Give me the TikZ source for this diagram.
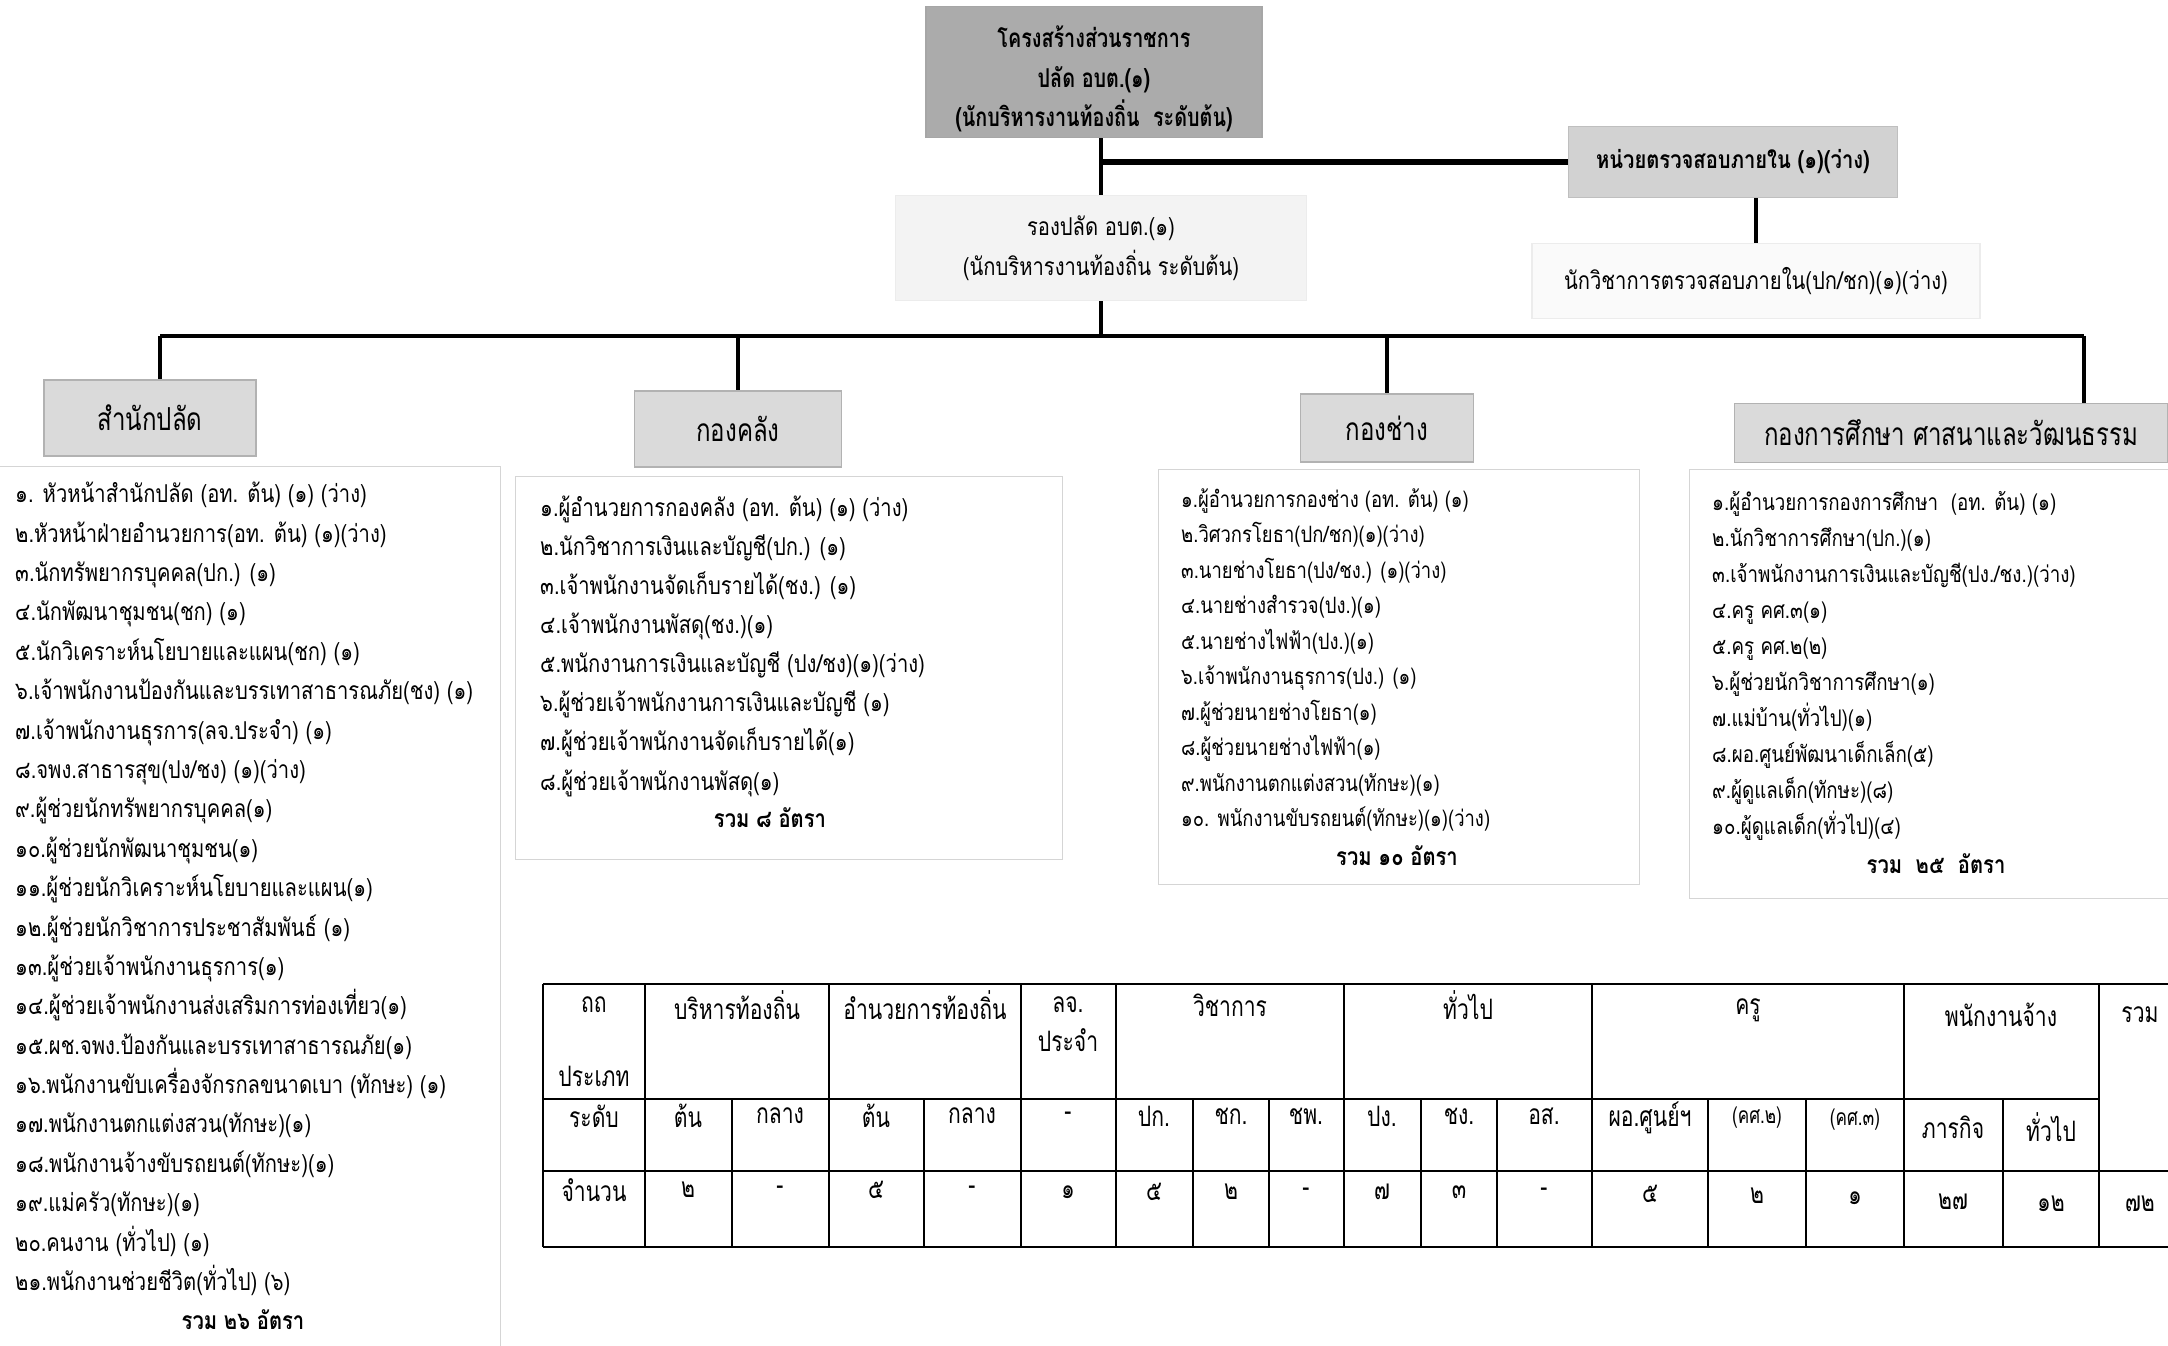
\documentclass[tikz,border=0pt]{standalone}
\usepackage{fontspec}
\newfontfamily\lomafont[Script=Thai,FakeStretch=0.82]{Loma}
\newfontfamily\lomanarrow[Script=Thai,FakeStretch=0.76]{Loma}
\newfontfamily\lomatable[Script=Thai,FakeStretch=0.75]{Loma}
\definecolor{topgray}{HTML}{ABABAB}
\definecolor{deptgray}{HTML}{DADADA}
\definecolor{auditgray}{HTML}{D2D2D2}
\definecolor{palegray}{HTML}{F3F3F3}
\definecolor{edgegray}{HTML}{D5D5D5}

\begin{document}
\begin{tikzpicture}[x=0.01cm,y=-0.01cm,inner sep=1pt,
 font=\lomafont\fontsize{7pt}{11.2pt}\selectfont,
 conn/.style={line width=0.9pt},
 dept/.style={draw=gray!60,fill=deptgray,font=\lomanarrow\fontsize{9pt}{11pt}\selectfont},
 listbox/.style={draw=edgegray,line width=0.3pt},
 stafflist/.style={anchor=north west,align=left},
 sumline/.style={font=\lomafont\bfseries\fontsize{7pt}{11pt}\selectfont},
 tabline/.style={line width=0.7pt},
 cell/.style={font=\lomatable\fontsize{8pt}{10pt}\selectfont}]
\useasboundingbox (0,0) rectangle (2168,1346);
\node[draw=gray!70,fill=topgray,minimum width=3.36cm,minimum height=1.31cm] (top) at (1094,72) {};
\node[align=center,font=\lomanarrow\bfseries\fontsize{7.4pt}{11.2pt}\selectfont] (toptitle) at (1094,79) {โครงสร้างส่วนราชการ\\ปลัด อบต.(๑)\\(นักบริหารงานท้องถิ่น\ \ ระดับต้น)};
\node[draw=gray!50,fill=auditgray,minimum width=3.29cm,minimum height=0.71cm,font=\lomafont\bfseries\fontsize{7pt}{11pt}\selectfont] (audit) at (1733,162) {หน่วยตรวจสอบภายใน (๑)(ว่าง)};
\node[draw=gray!15,fill=palegray!40,minimum width=4.48cm,minimum height=0.75cm] (auditor) at (1756,281) {นักวิชาการตรวจสอบภายใน(ปก/ชก)(๑)(ว่าง)};
\node[draw=gray!15,fill=palegray,minimum width=4.11cm,minimum height=1.05cm,align=center,font=\lomafont\fontsize{7pt}{11.4pt}\selectfont] (deputy) at (1101,248) {รองปลัด อบต.(๑)\\(นักบริหารงานท้องถิ่น ระดับต้น)};
\coordinate (busL) at (160,336); \coordinate (busR) at (2084,336);
\draw[conn] (top.south -| deputy.north) -- (deputy.north);
\draw[conn,line width=1.6pt] (deputy.north |- audit.west) -- (audit.west);
\draw[conn] (audit.south -| auditor.north) -- (auditor.north);
\draw[conn] (deputy.south) -- (deputy.south |- busL); \draw[conn] (busL) -- (busR);
\node[dept,minimum width=2.12cm,minimum height=0.76cm] (office) at (150,418) {สำนักปลัด};
\node[dept,minimum width=2.07cm,minimum height=0.76cm] (finance) at (738,429) {กองคลัง};
\node[dept,minimum width=1.73cm,minimum height=0.68cm] (works) at (1387,428) {กองช่าง};
\node[dept,minimum width=4.33cm,minimum height=0.59cm] (edu) at (1951,433) {กองการศึกษา ศาสนาและวัฒนธรรม};
\draw[conn] (busL) -- (busL |- office.north) (finance.north |- busL) -- (finance.north);
\draw[conn] (works.north |- busL) -- (works.north) (busR) -- (busR |- edu.north);
\node[listbox,minimum width=5cm,minimum height=8.9cm] (officebox) at (250,912) {};
\node[listbox,minimum width=5.46cm,minimum height=3.83cm] (financebox) at (789,668) {};
\node[listbox,minimum width=4.81cm,minimum height=4.15cm] (worksbox) at (1399,677) {};
\node[listbox,minimum width=4.9cm,minimum height=4.29cm] (edubox) at (1935,684) {};
\node[stafflist] (officelist) at (11,478) {๑. หัวหน้าสำนักปลัด (อท. ต้น) (๑) (ว่าง)\\๒.หัวหน้าฝ่ายอำนวยการ(อท. ต้น) (๑)(ว่าง)\\๓.นักทรัพยากรบุคคล(ปก.) (๑)\\๔.นักพัฒนาชุมชน(ชก) (๑)\\๕.นักวิเคราะห์นโยบายและแผน(ชก) (๑)\\๖.เจ้าพนักงานป้องกันและบรรเทาสาธารณภัย(ชง) (๑)\\๗.เจ้าพนักงานธุรการ(ลจ.ประจำ) (๑)\\๘.จพง.สาธารสุข(ปง/ชง) (๑)(ว่าง)\\๙.ผู้ช่วยนักทรัพยากรบุคคล(๑)\\๑๐.ผู้ช่วยนักพัฒนาชุมชน(๑)\\๑๑.ผู้ช่วยนักวิเคราะห์นโยบายและแผน(๑)\\๑๒.ผู้ช่วยนักวิชาการประชาสัมพันธ์ (๑)\\๑๓.ผู้ช่วยเจ้าพนักงานธุรการ(๑)\\๑๔.ผู้ช่วยเจ้าพนักงานส่งเสริมการท่องเที่ยว(๑)\\๑๕.ผช.จพง.ป้องกันและบรรเทาสาธารณภัย(๑)\\๑๖.พนักงานขับเครื่องจักรกลขนาดเบา (ทักษะ) (๑)\\๑๗.พนักงานตกแต่งสวน(ทักษะ)(๑)\\๑๘.พนักงานจ้างขับรถยนต์(ทักษะ)(๑)\\๑๙.แม่ครัว(ทักษะ)(๑)\\๒๐.คนงาน (ทั่วไป) (๑)\\๒๑.พนักงานช่วยชีวิต(ทั่วไป) (๖)};
\node[sumline] (officesum) at (243,1320) {รวม ๒๖ อัตรา};
\node[stafflist,font=\lomafont\fontsize{7pt}{11.1pt}\selectfont] (financelist) at (536,492) {๑.ผู้อำนวยการกองคลัง (อท. ต้น) (๑) (ว่าง)\\๒.นักวิชาการเงินและบัญชี(ปก.) (๑)\\๓.เจ้าพนักงานจัดเก็บรายได้(ชง.) (๑)\\๔.เจ้าพนักงานพัสดุ(ชง.)(๑)\\๕.พนักงานการเงินและบัญชี (ปง/ชง)(๑)(ว่าง)\\๖.ผู้ช่วยเจ้าพนักงานการเงินและบัญชี (๑)\\๗.ผู้ช่วยเจ้าพนักงานจัดเก็บรายได้(๑)\\๘.ผู้ช่วยเจ้าพนักงานพัสดุ(๑)};
\node[sumline] (financesum) at (770,818) {รวม ๘ อัตรา};
\node[stafflist,font=\lomafont\fontsize{6.4pt}{10.1pt}\selectfont] (workslist) at (1177,484) {๑.ผู้อำนวยการกองช่าง (อท. ต้น) (๑)\\๒.วิศวกรโยธา(ปก/ชก)(๑)(ว่าง)\\๓.นายช่างโยธา(ปง/ชง.) (๑)(ว่าง)\\๔.นายช่างสำรวจ(ปง.)(๑)\\๕.นายช่างไฟฟ้า(ปง.)(๑)\\๖.เจ้าพนักงานธุรการ(ปง.) (๑)\\๗.ผู้ช่วยนายช่างโยธา(๑)\\๘.ผู้ช่วยนายช่างไฟฟ้า(๑)\\๙.พนักงานตกแต่งสวน(ทักษะ)(๑)\\๑๐. พนักงานขับรถยนต์(ทักษะ)(๑)(ว่าง)};
\node[sumline] (workssum) at (1397,856) {รวม ๑๐ อัตรา};
\node[stafflist,font=\lomafont\fontsize{6.5pt}{10.25pt}\selectfont] (edulist) at (1708,487) {๑.ผู้อำนวยการกองการศึกษา\ \ (อท. ต้น) (๑)\\๒.นักวิชาการศึกษา(ปก.)(๑)\\๓.เจ้าพนักงานการเงินและบัญชี(ปง./ชง.)(ว่าง)\\๔.ครู คศ.๓(๑)\\๕.ครู คศ.๒(๒)\\๖.ผู้ช่วยนักวิชาการศึกษา(๑)\\๗.แม่บ้าน(ทั่วไป)(๑)\\๘.ผอ.ศูนย์พัฒนาเด็กเล็ก(๕)\\๙.ผู้ดูแลเด็ก(ทักษะ)(๘)\\๑๐.ผู้ดูแลเด็ก(ทั่วไป)(๔)};
\node[sumline] (edusum) at (1936,864) {รวม\ \ ๒๕\ \ อัตรา};
\draw[tabline] (543,984) -- (2168,984) (543,1099) -- (2099,1099) (543,1171) -- (2168,1171) (543,1247) -- (2168,1247);
\draw[tabline] (543,984) -- (543,1247) (645,984) -- (645,1247) (829,984) -- (829,1247) (1021,984) -- (1021,1247) (1116,984) -- (1116,1247);
\draw[tabline] (1344,984) -- (1344,1247) (1592,984) -- (1592,1247) (1904,984) -- (1904,1247) (2099,984) -- (2099,1247);
\draw[tabline] (732,1099) -- (732,1247) (924,1099) -- (924,1247) (1193,1099) -- (1193,1247) (1269,1099) -- (1269,1247) (1421,1099) -- (1421,1247);
\draw[tabline] (1497,1099) -- (1497,1247) (1708,1099) -- (1708,1247) (1806,1099) -- (1806,1247) (2003,1099) -- (2003,1247);
\node[cell] (h0) at (594,1005) {ถถ}; \node[cell] (h0b) at (594,1076) {ประเภท};
\node[cell] (h1) at (737,1005) {บริหารท้องถิ่น}; \node[cell] (h2) at (925,1005) {อำนวยการท้องถิ่น};
\node[cell] (h3) at (1068,1005) {ลจ.}; \node[cell] (h3b) at (1068,1040) {ประจำ};
\node[cell] (h4) at (1230,1005) {วิชาการ}; \node[cell] (h5) at (1468,1005) {ทั่วไป};
\node[cell] (h6) at (1748,1010) {ครู}; \node[cell] (h7) at (2001,1015) {พนักงานจ้าง}; \node[cell] (h8) at (2140,1015) {รวม};
\node[cell] (l0) at (594,1116) {ระดับ}; \node[cell] (l1) at (688,1116) {ต้น}; \node[cell] (l2) at (780,1116) {กลาง};
\node[cell] (l3) at (876,1116) {ต้น}; \node[cell] (l4) at (972,1116) {กลาง}; \node[cell] (l5) at (1068,1116) {-};
\node[cell] (l6) at (1154,1116) {ปก.}; \node[cell] (l7) at (1231,1116) {ชก.}; \node[cell] (l8) at (1306,1116) {ชพ.};
\node[cell] (l9) at (1382,1116) {ปง.}; \node[cell] (l10) at (1459,1116) {ชง.}; \node[cell] (l11) at (1544,1116) {อส.};
\node[cell] (l12) at (1650,1118) {ผอ.ศูนย์ฯ}; \node[cell,font=\lomatable\fontsize{6.5pt}{8pt}\selectfont] (l13) at (1757,1118) {(คศ.๒)};
\node[cell,font=\lomatable\fontsize{6.5pt}{8pt}\selectfont] (l14) at (1855,1120) {(คศ.๓)};
\node[cell] (l15) at (1953,1127) {ภารกิจ}; \node[cell] (l16) at (2051,1127) {ทั่วไป};
\node[cell] (n0) at (594,1190) {จำนวน}; \node[cell] (n1) at (688,1190) {๒}; \node[cell] (n2) at (780,1190) {-};
\node[cell] (n3) at (876,1190) {๕}; \node[cell] (n4) at (972,1190) {-}; \node[cell] (n5) at (1068,1192) {๑};
\node[cell] (n6) at (1154,1192) {๕}; \node[cell] (n7) at (1231,1192) {๒}; \node[cell] (n8) at (1306,1192) {-};
\node[cell] (n9) at (1382,1192) {๗}; \node[cell] (n10) at (1459,1192) {๓}; \node[cell] (n11) at (1544,1192) {-};
\node[cell] (n12) at (1650,1194) {๕}; \node[cell] (n13) at (1757,1196) {๒}; \node[cell] (n14) at (1855,1198) {๑};
\node[cell] (n15) at (1953,1202) {๒๗}; \node[cell] (n16) at (2051,1204) {๑๒}; \node[cell] (n17) at (2140,1204) {๗๒};
\end{tikzpicture}
\end{document}
